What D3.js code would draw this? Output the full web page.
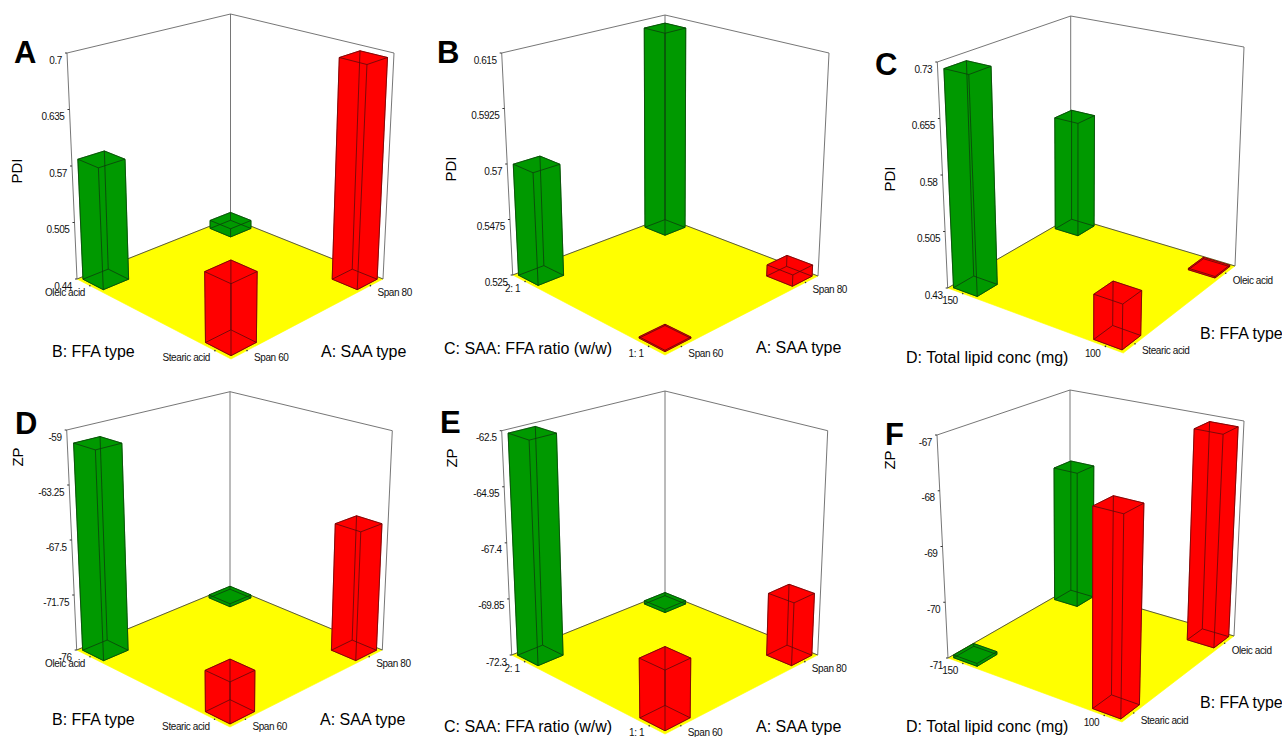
<!DOCTYPE html>
<html>
<head>
<meta charset="utf-8">
<script src="https://cdn.jsdelivr.net/npm/d3@7"></script>
<style>
  html, body { margin: 0; background: #fff; }
  svg { display: block; font-family: "Liberation Sans", Arial, sans-serif; }
</style>
</head>
<body>
<svg id="chart" width="1282" height="737"></svg>
<script>
// categories
const saaType = ['Span 60', 'Span 80'];
const ffaType = ['Stearic acid', 'Oleic acid'];
const ratioLevels = ['1: 1', '2: 1'];
const lipidLevels = ['100', '150'];

// z axis ticks, first and last are the domain
const ticksA = [0.44, 0.505, 0.57, 0.635, 0.7];
const ticksB = [0.525, 0.5475, 0.57, 0.5925, 0.615];
const ticksC = [0.43, 0.505, 0.58, 0.655, 0.73];
const ticksD = [-76, -71.75, -67.5, -63.25, -59];
const ticksE = [-72.3, -69.85, -67.4, -64.95, -62.5];
const ticksF = [-71, -70, -69, -68, -67];

// bar heights: [rows of the left axis][columns of the right axis]
const valuesA = [[0.515, 0.695], [0.578, 0.45]];
const valuesB = [[0.5255, 0.5295], [0.57, 0.612]];
const valuesC = [[0.486, 0.432], [0.721, 0.592]];
const valuesD = [[-73.1, -66.2], [-60, -75.75]];
const valuesE = [[-69.9, -69.6], [-62.6, -72.15]];
const valuesF = [[-67.6, -67.1], [-70.95, -68.4]];

// box corners on the page, f r b l = front right back left of the floor
const panels = [
  { letter: 'A', lx: 14, ly: 63, zName: 'PDI', zx: 22, zy: 171, ticks: ticksA, values: valuesA,
    right: saaType, left: ffaType, leftName: 'B: FFA type', rightName: 'A: SAA type',
    lt: [52, 357], rt: [321, 357],
    floor: [[231, 359], [383, 279], [230.5, 218], [77, 279]],
    top: [[67, 53], [230.5, 14], [394, 53]] },
  { letter: 'B', lx: 437, ly: 63, zName: 'PDI', zx: 456, zy: 169, ticks: ticksB, values: valuesB,
    right: saaType, left: ratioLevels, leftName: 'C: SAA: FFA ratio (w/w)', rightName: 'A: SAA type',
    lt: [444, 354], rt: [756, 353],
    floor: [[665, 355], [818, 276], [665, 217.5], [512.7, 275]],
    top: [[501.7, 53], [665, 15], [829, 53]] },
  { letter: 'C', lx: 875, ly: 75, zName: 'PDI', zx: 895, zy: 179, ticks: ticksC, values: valuesC,
    right: ffaType, left: lipidLevels, leftName: 'D: Total lipid conc (mg)', rightName: 'B: FFA type',
    lt: [906, 363], rt: [1200, 339],
    floor: [[1123.3, 353], [1235, 266], [1070.7, 217], [947.7, 288]],
    top: [[937.3, 62], [1070.7, 16], [1244, 47]] },
  { letter: 'D', lx: 15, ly: 434, zName: 'ZP', zx: 23, zy: 457, ticks: ticksD, values: valuesD,
    right: saaType, left: ffaType, leftName: 'B: FFA type', rightName: 'A: SAA type',
    lt: [52, 725], rt: [320, 725],
    floor: [[230, 727], [382.3, 650], [230, 586.7], [76.7, 650]],
    top: [[66.7, 430], [230, 391.7], [392.3, 430.7]] },
  { letter: 'E', lx: 440, ly: 433, zName: 'ZP', zx: 457, zy: 458, ticks: ticksE, values: valuesE,
    right: saaType, left: ratioLevels, leftName: 'C: SAA: FFA ratio (w/w)', rightName: 'A: SAA type',
    lt: [444, 732], rt: [756, 732],
    floor: [[665, 734], [817.7, 655], [665, 593.3], [511.7, 655]],
    top: [[501.7, 430.7], [665, 391], [827.7, 430.7]] },
  { letter: 'F', lx: 885, ly: 445, zName: 'ZP', zx: 895, zy: 460, ticks: ticksF, values: valuesF,
    right: ffaType, left: lipidLevels, leftName: 'D: Total lipid conc (mg)', rightName: 'B: FFA type',
    lt: [906, 732], rt: [1200, 708],
    floor: [[1122, 722], [1234, 636], [1070, 588], [948, 658]],
    top: [[937, 435], [1070, 390], [1244, 421]] }
];

const barColors = ['#ff0000', '#009900'];
const svg = d3.select('#chart');
const closed = d3.line().curve(d3.curveLinearClosed);

// unit square to page quad, order is (0,0) (1,0) (1,1) (0,1)
function quadMap(q) {
  const [[x0, y0], [x1, y1], [x2, y2], [x3, y3]] = q;
  const dx1 = x1 - x2, dx2 = x3 - x2, sx = x0 - x1 + x2 - x3;
  const dy1 = y1 - y2, dy2 = y3 - y2, sy = y0 - y1 + y2 - y3;
  const det = dx1 * dy2 - dx2 * dy1;
  const g = (sx * dy2 - dx2 * sy) / det;
  const h = (dx1 * sy - sx * dy1) / det;
  const a = x1 - x0 + g * x1, b = x3 - x0 + h * x3;
  const d = y1 - y0 + g * y1, e = y3 - y0 + h * y3;
  return (u, v) => {
    const w = g * u + h * v + 1;
    return [(a * u + b * v + x0) / w, (d * u + e * v + y0) / w];
  };
}

function drawPanel(p) {
  const g = svg.append('g');
  const [F, R, B, L] = p.floor;
  const [TL, TB, TR] = p.top;

  // the front top corner is hidden, it follows from the other wall heights
  const side = ((L[1] - TL[1]) + (R[1] - TR[1])) / 2;
  const back = B[1] - TB[1];
  const TF = [F[0] + (F[0] - B[0]) * 0.07, F[1] - side * side / back];

  const floorMap = quadMap(p.floor);
  const topMap = quadMap([TF, TR, TB, TL]);
  const z = d3.scaleLinear().domain(d3.extent(p.ticks)).range([0, 1]);
  const project = (u, v, t) => {
    const a = floorMap(u, v), b = topMap(u, v);
    return [a[0] + (b[0] - a[0]) * t, a[1] + (b[1] - a[1]) * t];
  };

  // floor position of each category
  const uScale = d3.scalePoint().domain(p.right).range([0.092, 0.905]);
  const vScale = d3.scalePoint().domain(p.left).range([0.092, 0.905]);
  const half = 0.074;

  // floor and walls
  g.append('path').attr('d', closed(p.floor)).attr('fill', '#ffff00').attr('stroke', '#ffff00').attr('stroke-width', 0.6);
  g.append('path').attr('d', d3.line()([L, B, R])).attr('fill', 'none').attr('stroke', '#444').attr('stroke-width', 0.9);
  g.append('path').attr('d', d3.line()([L, TL, TB, TR, R])).attr('fill', 'none').attr('stroke', '#666').attr('stroke-width', 0.9);
  g.append('line').attr('x1', B[0]).attr('y1', B[1]).attr('x2', TB[0]).attr('y2', TB[1]).attr('stroke', '#666').attr('stroke-width', 0.9);

  // z ticks on the left wall edge
  p.ticks.forEach(t => {
    const q = project(0, 1, z(t));
    g.append('line').attr('x1', q[0] - 2).attr('y1', q[1]).attr('x2', q[0]).attr('y2', q[1]).attr('stroke', '#333').attr('stroke-width', 1);
    g.append('text').attr('class', 'tick').attr('x', q[0] - 5).attr('y', q[1] + 10.5)
      .attr('text-anchor', 'end').text(String(t));
  });

  // floor ticks, left axis runs front to left, right axis runs front to right
  p.left.forEach(c => {
    const q = floorMap(0, vScale(c));
    g.append('circle').attr('cx', q[0]).attr('cy', q[1]).attr('r', 0.8).attr('fill', '#333');
    g.append('text').attr('class', 'tick').attr('x', q[0] - 5).attr('y', q[1] + 10.5)
      .attr('text-anchor', 'end').text(c);
  });
  p.right.forEach(c => {
    const q = floorMap(uScale(c), 0);
    g.append('circle').attr('cx', q[0]).attr('cy', q[1]).attr('r', 0.8).attr('fill', '#333');
    g.append('text').attr('class', 'tick').attr('x', q[0] + 7).attr('y', q[1] + 10.5).text(c);
  });

  // bars, back one first
  const bars = [];
  p.left.forEach((lc, i) => p.right.forEach((rc, j) => bars.push({ lc, rc, i, j, v: p.values[i][j] })));
  bars.sort((a, b) => (b.i + b.j) - (a.i + a.j));

  bars.forEach(d => {
    const u0 = uScale(d.rc) - half, u1 = uScale(d.rc) + half;
    const v0 = vScale(d.lc) - half, v1 = vScale(d.lc) + half;
    const t = z(d.v);
    const base = [[u0, v0], [u1, v0], [u1, v1], [u0, v1]].map(c => project(c[0], c[1], 0));
    const cap = [[u0, v0], [u1, v0], [u1, v1], [u0, v1]].map(c => project(c[0], c[1], t));
    const faces = [base, cap];
    d3.range(4).forEach(k => {
      const n = (k + 1) % 4;
      faces.push([base[k], base[n], cap[n], cap[k]]);
    });
    const bar = g.append('g');
    bar.selectAll('path').data(faces).join('path')
      .attr('d', closed)
      .attr('fill', barColors[d.i])
      .attr('stroke', barColors[d.i])
      .attr('stroke-width', 0.4);
    // all twelve edges stay visible, hidden ones too
    const edges = [];
    d3.range(4).forEach(k => {
      const n = (k + 1) % 4;
      edges.push([base[k], base[n]], [cap[k], cap[n]], [base[k], cap[k]]);
    });
    bar.selectAll('line').data(edges).join('line')
      .attr('x1', e => e[0][0]).attr('y1', e => e[0][1])
      .attr('x2', e => e[1][0]).attr('y2', e => e[1][1])
      .attr('stroke', d.i ? '#0c3d0c' : '#5c0a0a')
      .attr('stroke-width', 0.8);
  });

  // titles
  g.append('text').attr('x', p.lt[0]).attr('y', p.lt[1]).attr('font-size', 16).text(p.leftName);
  g.append('text').attr('x', p.rt[0]).attr('y', p.rt[1]).attr('font-size', 16).text(p.rightName);
  g.append('text').attr('transform', `translate(${p.zx},${p.zy}) rotate(-90)`)
    .attr('text-anchor', 'middle').attr('font-size', 15).text(p.zName);
  g.append('text').attr('x', p.lx).attr('y', p.ly).attr('font-size', 31).attr('font-weight', 'bold').text(p.letter);
}

panels.forEach(drawPanel);

svg.selectAll('text.tick').attr('font-size', 10).attr('letter-spacing', -0.4).attr('fill', '#111');
</script>
</body>
</html>
